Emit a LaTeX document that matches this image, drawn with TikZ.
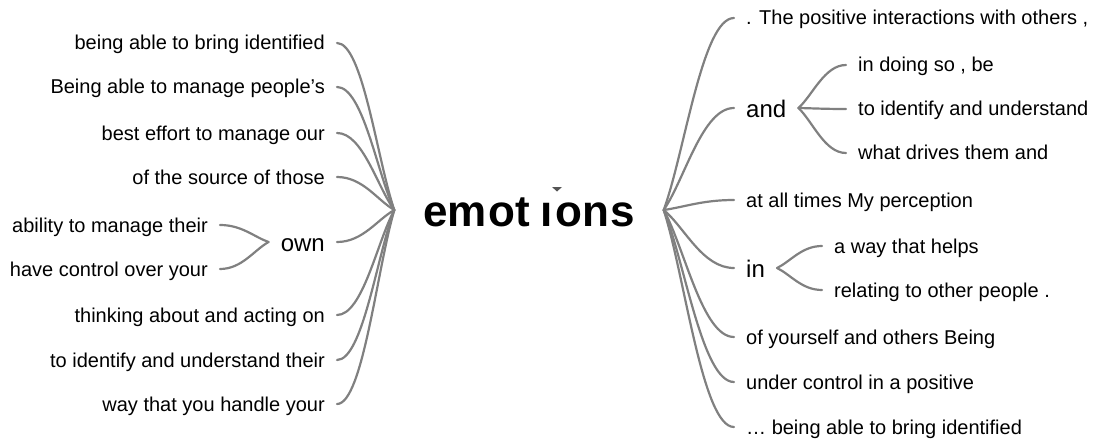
\documentclass[tikz,border=0pt]{standalone}
\usepackage{fontspec}
\setmainfont{Liberation Sans}
\usetikzlibrary{calc}
\definecolor{linegray}{RGB}{128,128,128}
\definecolor{tri}{RGB}{85,85,85}
\begin{document}
\begin{tikzpicture}[x=1pt,y=-1pt,
  conn/.style={draw=linegray, line width=2.2pt, line cap=round},
  branchcurve/.style={to path={.. controls ($(\tikztostart)!0.3!(\tikztotarget)$) and ($(\tikztotarget)!0.45!(\tikztotarget -| \tikztostart)$) .. (\tikztotarget)}},
  leaf/.style={font=\fontsize{20}{24}\selectfont, inner xsep=12pt, inner ysep=0pt, text height=18pt, text depth=4pt},
  leafL/.style={leaf, anchor=east},
  leafR/.style={leaf, anchor=west},
  mid/.style={font=\fontsize{24}{28}\selectfont, inner xsep=12pt, inner ysep=0pt, text height=21.6pt, text depth=2.4pt},
  midL/.style={mid, anchor=east},
  midR/.style={mid, anchor=west},
  central/.style={font=\fontsize{44}{50}\selectfont\bfseries, inner xsep=28.5pt, inner ysep=0pt, text height=36pt, text depth=4pt}]
\useasboundingbox (0,0) rectangle (1097,441);

% central node
\node[central] (emo) at (529,210) {em\kern1.6pt ot\kern10.4pt{\i}\kern2.8pt on\kern1.6pt s};
\fill[tri] (552,187) -- (562,187) -- (557,191.5) -- cycle;

% left side
\node[leafL] (L1) at (337,43) {being able to bring identified};
\node[leafL] (L2) at (337,87) {Being able to manage people's};
\node[leafL] (L3) at (337,133) {best effort to manage our};
\node[leafL] (L4) at (337,177) {of the source of those};
\node[midL] (own) at (337,242) {own};
\node[leafL] (O1) at (220,225) {ability to manage their};
\node[leafL] (O2) at (220,269) {have control over your};
\node[leafL] (L5) at (337,315) {thinking about and acting on};
\node[leafL] (L6) at (337,360) {to identify and understand their};
\node[leafL] (L7) at (337,404) {way that you handle your};

\foreach \t in {L1,L2,L3,L4,own,L5,L6,L7}
  \draw[conn] (emo.west) to[branchcurve] (\t.east);
\foreach \t in {O1,O2}
  \draw[conn] (own.west) to[branchcurve] (\t.east);

% right side
\node[leafR] (R1) at (734,18) {. The positive interactions with others ,};
\node[midR] (and) at (734,108) {and};
\node[leafR] (A1) at (846,65) {in doing so , be};
\node[leafR] (A2) at (846,109) {to identify and understand};
\node[leafR] (A3) at (846,153) {what drives them and};
\node[leafR] (R3) at (734,200) {at all times My perception};
\node[midR] (in) at (734,268) {in};
\node[leafR] (I1) at (822,246) {a way that helps};
\node[leafR] (I2) at (822,290) {relating to other people .};
\node[leafR] (R5) at (734,337) {of yourself and others Being};
\node[leafR] (R6) at (734,382) {under control in a positive};
\node[leafR] (R7) at (734,427) {… being able to bring identified};

\foreach \t in {R1,and,R3,in,R5,R6,R7}
  \draw[conn] (emo.east) to[branchcurve] (\t.west);
\foreach \t in {A1,A2,A3}
  \draw[conn] (and.east) to[branchcurve] (\t.west);
\foreach \t in {I1,I2}
  \draw[conn] (in.east) to[branchcurve] (\t.west);
\end{tikzpicture}
\end{document}
